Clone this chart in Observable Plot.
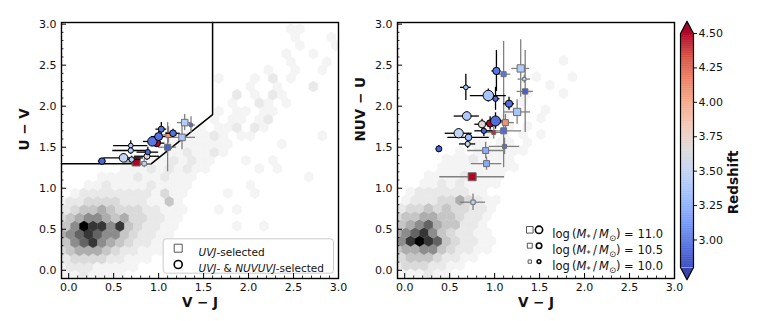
<!DOCTYPE html>
<html><head><meta charset="utf-8">
<script src="https://cdn.jsdelivr.net/npm/d3@7"></script>
<script src="https://cdn.jsdelivr.net/npm/@observablehq/plot@0.6"></script>
<style>
body{margin:0;background:#fff;}
#fig{position:relative;width:763px;height:321px;background:#fff;}
#fig svg{position:absolute;top:0;overflow:visible;}
</style></head><body><div id="fig"></div>
<script>
// ---------------- data ----------------
const AXIS_TICKS = [0, 0.5, 1.0, 1.5, 2.0, 2.5, 3.0];
const CB_TICKS = [3.00, 3.25, 3.50, 3.75, 4.00, 4.25, 4.50];
const Z_MIN = 2.8, Z_MAX = 4.5;
const LEGEND_MASS = [11.0, 10.5, 10.0];

// UVJ selection wedge (Williams et al.)
const UVJ_UV_MIN = 1.3, UVJ_VJ_MAX = 1.6, UVJ_SLOPE = 0.88, UVJ_INTERCEPT = 0.49;

// Left panel: U-V vs V-J, squares (UVJ-selected)
const uvjSqVJ    = [0.75, 0.84, 1.11, 1.10, 1.26, 1.29, 1.36];
const uvjSqUV    = [1.32, 1.30, 1.65, 1.50, 1.62, 1.80, 1.77];
const uvjSqVJErr = [0.12, 0.08, 0.10, 0.10, 0.15, 0.08, 0.05];
const uvjSqUVErr = [0.05, 0.05, 0.10, 0.30, 0.15, 0.10, 0.10];
const uvjSqZ     = [4.50, 3.50, 4.08, 2.88, 3.36, 3.42, 2.92];
const uvjSqMass  = [11.44, 10.30, 10.60, 10.82, 11.0, 11.0, 10.0];
// Left panel: circles (UVJ- & NUVUVJ-selected)
const uvjCiVJ    = [0.61, 0.37, 0.69, 0.69, 0.70, 0.87, 0.88, 0.98, 0.93, 1.00, 1.03, 1.16];
const uvjCiUV    = [1.37, 1.33, 1.52, 1.46, 1.35, 1.39, 1.44, 1.55, 1.57, 1.63, 1.72, 1.67];
const uvjCiVJErr = [0.22, 0.04, 0.19, 0.20, 0.10, 0.14, 0.12, 0.09, 0.10, 0.08, 0.06, 0.08];
const uvjCiUVErr = [0.05, 0.03, 0.06, 0.05, 0.04, 0.05, 0.06, 0.05, 0.06, 0.06, 0.08, 0.05];
const uvjCiZ     = [3.50, 2.90, 3.40, 3.45, 3.45, 3.68, 2.92, 4.50, 2.97, 2.95, 2.95, 2.95];
const uvjCiMass  = [11.38, 10.82, 10.27, 10.45, 10.45, 10.64, 10.45, 11.0, 11.56, 11.19, 10.64, 10.82];

// Right panel: NUV-U vs V-J, squares
const nuvSqVJ    = [0.75, 0.76, 0.91, 0.90, 0.99, 1.10, 1.11, 1.12, 1.25, 1.10, 1.29, 1.33, 1.34];
const nuvSqNU    = [1.14, 0.83, 1.30, 1.46, 1.68, 1.70, 1.51, 1.80, 1.93, 2.39, 2.46, 2.33, 2.18];
const nuvSqVJErr = [0.36, 0.14, 0.17, 0.20, 0.08, 0.20, 0.17, 0.10, 0.15, 0.08, 0.10, 0.07, 0.09];
const nuvSqNUErr = [0.05, 0.10, 0.08, 0.10, 0.08, 0.45, 0.10, 0.10, 0.15, 0.40, 0.35, 0.05, 0.50];
const nuvSqZ     = [4.50, 3.48, 3.20, 3.22, 4.42, 2.93, 2.95, 4.10, 3.36, 2.97, 3.42, 3.50, 2.87];
const nuvSqMass  = [11.44, 10.30, 10.82, 10.82, 10.20, 10.82, 10.20, 10.82, 11.22, 10.52, 11.22, 10.0, 10.6];
// Right panel: circles
const nuvCiVJ    = [0.60, 0.38, 0.68, 0.69, 0.71, 0.70, 0.86, 0.88, 0.93, 1.01, 0.95, 1.01, 1.02, 1.16];
const nuvCiNU    = [1.67, 1.48, 2.23, 1.88, 1.62, 1.54, 1.78, 1.70, 2.13, 2.09, 1.79, 1.82, 2.43, 2.03];
const nuvCiVJErr = [0.15, 0.03, 0.06, 0.14, 0.23, 0.09, 0.08, 0.10, 0.20, 0.05, 0.08, 0.08, 0.05, 0.06];
const nuvCiNUErr = [0.05, 0.04, 0.16, 0.05, 0.05, 0.055, 0.06, 0.07, 0.08, 0.14, 0.08, 0.10, 0.25, 0.08];
const nuvCiZ     = [3.50, 2.89, 3.33, 3.39, 3.32, 3.50, 3.68, 2.91, 3.36, 2.92, 4.50, 2.93, 2.97, 2.93];
const nuvCiMass  = [11.56, 10.64, 10.28, 11.39, 10.83, 10.44, 11.0, 10.44, 11.9, 10.44, 11.0, 11.75, 11.0, 11.0];

// Background galaxy density (hexbin cells). Each row (bottom -> top): "firstColumn|levels", level 1..9, "." empty
const uvjHexRows = [
  "1|1121111", "0|122211111", "1|2333322111", "0|345554322111", "1|467865432211",
  "0|5678766432211", "1|4698868432211......1..1", "0|34566545332211", "1|23445433322111...1.1",
  "0|12233332221141", "2|1222222221311....1..1", "3|112111121111......1", "5|11112112111............1",
  "7|1112121211.....1.1", "10|11121211...1..1", "12|1121121", "13|1111111.....1", "14|11121.11.......1",
  "16|1.112.21", "17|1.11.12", "18|1.11.11", "19|1..21.1", "20|2.1.21", "21|1..1...2",
  "18|1...1.2.1", "23|1..1..1", "26|1...1", "25|1..1", "27|1...1", "26|1...1", "26|11"
];
const nuvHexRows = [
  "1|111211", "0|23332211", "1|344432211", "0|45566432211", "1|68987432211",
  "0|56786432211", "1|4567544221", "0|34455443221", "1|23343433221", "1|12223353211",
  "2|122222211", "3|112121111", "4|111121111", "5|111111111", "6|11121111", "7|1.111111",
  "9|11.11.1", "10|1.1.1.1", "11|1.1.1", "12|1...1", "13|1...1", "14|1", "15|1...1",
  "17|1", "16|1...1", "0|", "19|1"
];

// ---------------- helpers ----------------
const coolwarm = d3.piecewise(d3.interpolateRgb, ["#3b4cc0","#5977e3","#7b9ff9","#9ebeff","#c0d4f5","#dddcdc","#f2cbb7","#f7ac8e","#ee8468","#d65244","#b40426"]);
const zColor = z => coolwarm(Math.max(0, Math.min(1, (z - Z_MIN) / (Z_MAX - Z_MIN))));
const HEX_GREYS = ["#ffffff","#f4f4f4","#e9e9e9","#dadada","#c6c6c6","#adadad","#8c8c8c","#636363","#363636","#000000"];
const greyOf = v => HEX_GREYS[v];
const diam = m => 3.7 + 3.6 * (m - 10);
const side = m => 0.9 * diam(m);
const fmt1 = d3.format(".1f");

function rows(xs, ys, xe, ye, zs, ms) {
  return xs.map((x, i) => ({x, y: ys[i], xe: xe[i], ye: ye[i], z: zs[i], m: ms[i]}));
}
function hexCells(rowsSpec, x0, y0) {
  const out = [];
  rowsSpec.forEach((row, j) => {
    const [start, levels] = row.split("|");
    [...levels].forEach((c, i) => {
      if (c !== ".") out.push({x: x0 + (j % 2 ? 0.05 : 0) + 0.1 * (+start + i), y: y0 + 0.1 * j, v: +c});
    });
  });
  return out;
}
const hexSymbol = {draw(ctx, size) {
  const rx = Math.sqrt(size / Math.PI), ry = rx * 1.215;
  ctx.moveTo(0, -ry); ctx.lineTo(rx, -ry / 2); ctx.lineTo(rx, ry / 2); ctx.lineTo(0, ry);
  ctx.lineTo(-rx, ry / 2); ctx.lineTo(-rx, -ry / 2); ctx.closePath();
}};
const minorTicks = d3.range(0, 31).map(i => i / 10).filter(v => Math.abs(v * 2 - Math.round(v * 2)) > 1e-6);
const FONT = "'DejaVu Sans', sans-serif";
const W = 345, H = 321, ML = 61, MR = 7, MT = 22, MB = 43;
const FW = W - ML - MR, FH = H - MT - MB;

// rich text: <i>..</i> italic, <sub>..</sub> subscript
function applyRich(svg) {
  const NS = "http://www.w3.org/2000/svg";
  svg.querySelectorAll("text").forEach(t => {
    if (t.childElementCount !== 0 || !t.textContent.includes("<")) return;
    const src = t.textContent;
    const fs = parseFloat(t.getAttribute("font-size") || t.parentNode.getAttribute("font-size") || 11);
    const shift = fs * 0.25;
    t.textContent = "";
    const re = /<(i|sub)>(.*?)<\/\1>/g;
    let last = 0, pending = 0, m;
    const add = (str, kind) => {
      if (!str) return;
      const sp = document.createElementNS(NS, "tspan");
      sp.textContent = str;
      let dy = pending;
      if (kind === "sub") { dy += shift; sp.setAttribute("font-size", (fs * 0.72).toFixed(1)); pending = -shift; }
      else pending = 0;
      if (kind === "i") sp.setAttribute("font-style", "italic");
      if (dy) sp.setAttribute("dy", dy.toFixed(2));
      t.appendChild(sp);
    };
    while ((m = re.exec(src))) {
      add(src.slice(last, m.index), null);
      add(m[2], m[1]);
      last = re.lastIndex;
    }
    add(src.slice(last), null);
  });
}

function panel({hex, sq, ci, ylab, ylabDy, back = [], front = []}) {
  const svg = Plot.plot({
    width: W, height: H, marginLeft: ML, marginRight: MR, marginTop: MT, marginBottom: MB,
    style: {background: "transparent", fontFamily: FONT, fontSize: "11px", color: "#111", overflow: "visible"},
    x: {domain: [-0.08, 3.0], ticks: AXIS_TICKS, tickFormat: fmt1, tickSize: 0, tickPadding: 5, label: null},
    y: {domain: [-0.1, 3.02], ticks: AXIS_TICKS, tickFormat: fmt1, tickSize: 0, tickPadding: 5, label: null},
    color: {type: "identity"},
    r: {type: "identity"},
    marks: [
      Plot.dot(hex, {x: "x", y: "y", r: 4.5, symbol: hexSymbol, fill: d => greyOf(d.v), stroke: d => greyOf(d.v), strokeWidth: 0.4, clip: true}),
      ...back,
      Plot.ruleX(sq, {x: "x", y1: d => d.y - d.ye, y2: d => d.y + d.ye, stroke: "#808080", strokeWidth: 1.3}),
      Plot.ruleY(sq, {y: "y", x1: d => d.x - d.xe, x2: d => d.x + d.xe, stroke: "#808080", strokeWidth: 1.3}),
      Plot.dot(sq, {x: "x", y: "y", symbol: "square", r: d => side(d.m) / Math.sqrt(Math.PI), fill: d => zColor(d.z), stroke: "#6e6e6e", strokeWidth: 1, sort: null}),
      Plot.ruleX(ci, {x: "x", y1: d => d.y - d.ye, y2: d => d.y + d.ye, stroke: "black", strokeWidth: 1.3}),
      Plot.ruleY(ci, {y: "y", x1: d => d.x - d.xe, x2: d => d.x + d.xe, stroke: "black", strokeWidth: 1.3}),
      Plot.dot(ci, {x: "x", y: "y", symbol: "circle", r: d => diam(d.m) / 2, fill: d => zColor(d.z), stroke: "black", strokeWidth: 1, sort: null}),
      ...front,
      Plot.frame({stroke: "black", strokeWidth: 1.4}),
      Plot.tickX(AXIS_TICKS, {x: d => d, insetTop: FH - 5, stroke: "black", strokeWidth: 1}),
      Plot.tickX(minorTicks, {x: d => d, insetTop: FH - 2.5, stroke: "black", strokeWidth: 0.8}),
      Plot.tickY(AXIS_TICKS, {y: d => d, insetRight: FW - 5, stroke: "black", strokeWidth: 1}),
      Plot.tickY(minorTicks, {y: d => d, insetRight: FW - 2.5, stroke: "black", strokeWidth: 0.8}),
      Plot.text(["V \u2212 J"], {frameAnchor: "bottom", dy: 28, fontWeight: "bold", fontSize: 13.5, fill: "#111"}),
      Plot.text([ylab], {frameAnchor: "left", dx: -37, dy: ylabDy, rotate: -90, fontWeight: "bold", fontSize: 13.5, fill: "#111"})
    ]
  });
  applyRich(svg);
  return svg;
}

// ---------------- left panel ----------------
const kneeVJ = (UVJ_UV_MIN - UVJ_INTERCEPT) / UVJ_SLOPE;
const wedge = [
  {x: -0.08, y: UVJ_UV_MIN}, {x: kneeVJ, y: UVJ_UV_MIN},
  {x: UVJ_VJ_MAX, y: UVJ_SLOPE * UVJ_VJ_MAX + UVJ_INTERCEPT}, {x: UVJ_VJ_MAX, y: 3.02}
];
const leftLegend = [
  Plot.frame({insetLeft: 101.7, insetTop: 216.3, insetRight: 5, insetBottom: 5.3, rx: 3, fill: "white", fillOpacity: 0.8, stroke: "#cccccc", strokeWidth: 1}),
  Plot.dot([0], {frameAnchor: "top-left", dx: 116.7, dy: 225.7, symbol: "square", r: 8 / Math.sqrt(Math.PI), fill: "white", stroke: "#555", strokeWidth: 1}),
  Plot.dot([0], {frameAnchor: "top-left", dx: 116.7, dy: 242, symbol: "circle", r: 4, fill: "white", stroke: "black", strokeWidth: 1.6}),
  Plot.text(["<i>UVJ</i>-selected"], {frameAnchor: "top-left", dx: 137, dy: 225.7, textAnchor: "start", fontSize: 10.5, fill: "#111"}),
  Plot.text(["<i>UVJ</i>- & <i>NUVUVJ</i>-selected"], {frameAnchor: "top-left", dx: 137, dy: 242, textAnchor: "start", fontSize: 10.5, fill: "#111"})
];
const leftSvg = panel({
  hex: hexCells(uvjHexRows, -0.13, -0.06),
  sq: rows(uvjSqVJ, uvjSqUV, uvjSqVJErr, uvjSqUVErr, uvjSqZ, uvjSqMass),
  ci: rows(uvjCiVJ, uvjCiUV, uvjCiVJErr, uvjCiUVErr, uvjCiZ, uvjCiMass),
  ylab: "U \u2212 V", ylabDy: 0,
  back: [Plot.line(wedge, {x: "x", y: "y", stroke: "black", strokeWidth: 1.5})],
  front: leftLegend
});

// ---------------- right panel ----------------
const rightLegend = [];
LEGEND_MASS.forEach((m, i) => {
  const dy = 207.3 + i * 15.9;
  rightLegend.push(
    Plot.dot([m], {frameAnchor: "top-left", dx: 132.3, dy, symbol: "square", r: side(m) / Math.sqrt(Math.PI), fill: "white", stroke: "#555", strokeWidth: 1}),
    Plot.dot([m], {frameAnchor: "top-left", dx: 141.5, dy, symbol: "circle", r: diam(m) / 2, fill: "white", stroke: "black", strokeWidth: 1.6}),
    Plot.text([`log\u2009(<i>M</i><sub>*</sub>\u2009/\u2009<i>M</i><sub>\u2299</sub>) = ${fmt1(m)}`], {frameAnchor: "top-left", dx: 154.7, dy, textAnchor: "start", fontSize: 11.5, fill: "#111"})
  );
});
const rightSvg = panel({
  hex: hexCells(nuvHexRows, -0.135, -0.043),
  sq: rows(nuvSqVJ, nuvSqNU, nuvSqVJErr, nuvSqNUErr, nuvSqZ, nuvSqMass),
  ci: rows(nuvCiVJ, nuvCiNU, nuvCiVJErr, nuvCiNUErr, nuvCiZ, nuvCiMass),
  ylab: "NUV \u2212 U", ylabDy: -9,
  front: rightLegend
});

// ---------------- colorbar ----------------
const EXT = 0.089;
const step = 0.005;
const cbSvg = Plot.plot({
  width: 89, height: H, marginLeft: 6, marginRight: 70, marginTop: 33, marginBottom: 54,
  style: {background: "transparent", fontFamily: FONT, fontSize: "11px", color: "#111", overflow: "visible"},
  x: {domain: [0, 1], axis: null},
  y: {domain: [Z_MIN, Z_MAX], ticks: CB_TICKS, tickFormat: d3.format(".2f"), axis: "right", tickSize: 3, tickPadding: 2, label: null},
  color: {type: "identity"},
  marks: [
    Plot.rect(d3.range(Z_MIN, Z_MAX, step), {x1: 0, x2: 1, y1: d => d, y2: d => Math.min(Z_MAX, d + step * 1.6), fill: d => zColor(d + step / 2)}),
    Plot.line([{x: 0, y: Z_MAX}, {x: 0.5, y: Z_MAX + EXT}, {x: 1, y: Z_MAX}], {x: "x", y: "y", fill: "#a8052a", stroke: "none"}),
    Plot.line([{x: 0, y: Z_MIN}, {x: 0.5, y: Z_MIN - EXT}, {x: 1, y: Z_MIN}], {x: "x", y: "y", fill: "#3546a8", stroke: "none"}),
    Plot.line([{x: 0, y: Z_MIN}, {x: 0, y: Z_MAX}, {x: 0.5, y: Z_MAX + EXT}, {x: 1, y: Z_MAX}, {x: 1, y: Z_MIN}, {x: 0.5, y: Z_MIN - EXT}, {x: 0, y: Z_MIN}],
      {x: "x", y: "y", stroke: "black", strokeWidth: 1.2, fill: "none"}),
    Plot.text(["Redshift"], {frameAnchor: "right", dx: 40, rotate: -90, fontWeight: "bold", fontSize: 13.5, fill: "#111"})
  ]
});

const fig = document.getElementById("fig");
leftSvg.style.left = "0px";
rightSvg.style.left = "336px";
cbSvg.style.left = "674px";
fig.append(leftSvg, rightSvg, cbSvg);
</script></body></html>
